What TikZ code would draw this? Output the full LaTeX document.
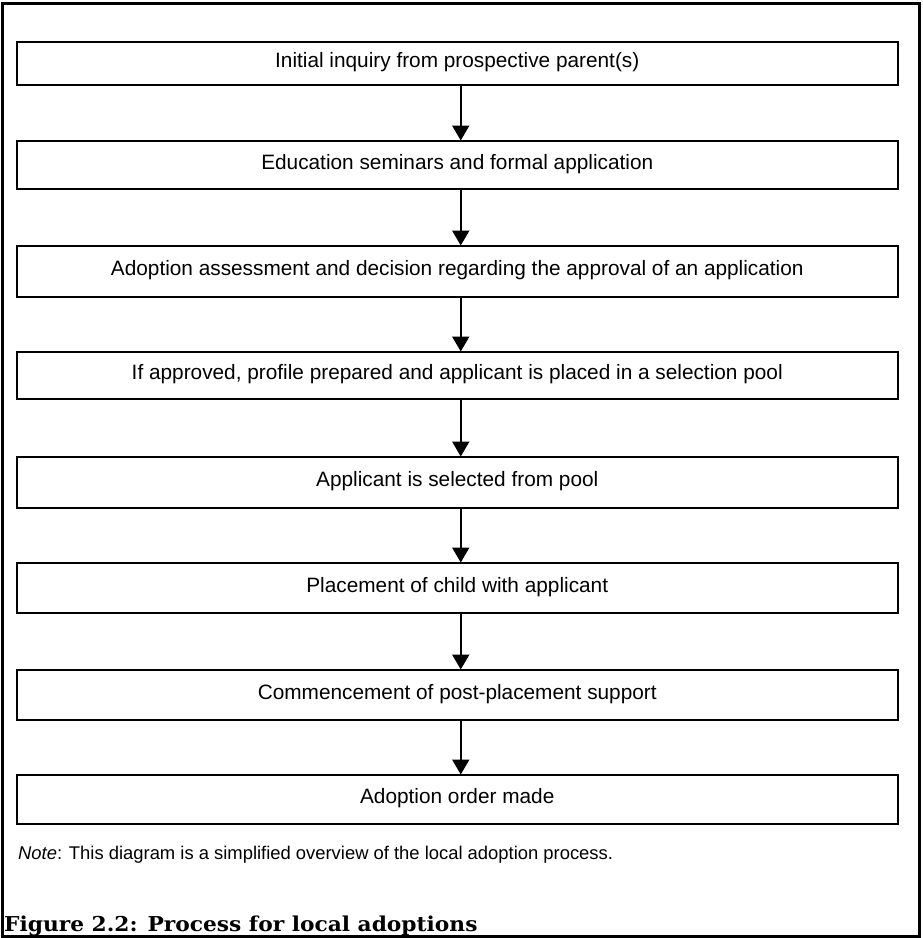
\documentclass[tikz,border=0pt]{standalone}
\usepackage{fontspec}
\setmainfont{Liberation Sans}
\newfontfamily\capfont[FakeStretch=1.06]{DejaVu Serif}
\usetikzlibrary{arrows.meta}
\tikzset{
  stepbox/.style={draw=black, line width=2pt, minimum width=880.5pt, inner sep=0pt,
    text height=14pt, text depth=5.6pt, font=\fontsize{20.8pt}{24pt}\selectfont},
  arr/.style={line width=2pt, -{Triangle[length=15pt,width=17pt]}, shorten >=-0.5pt},
}
\begin{document}
\begin{tikzpicture}[x=1pt,y=-1pt]
\useasboundingbox (0,0) rectangle (922,938);
\draw[line width=3pt] (2,3) rectangle (919,936);
\node[stepbox, minimum height=43.5pt] (b1) at (457.25,63.25) {Initial inquiry from prospective parent(s)};
\node[stepbox, minimum height=48pt] (b2) at (457.25,165) {Education seminars and formal application};
\node[stepbox, minimum height=51pt] (b3) at (457.25,271.5) {Adoption assessment and decision regarding the approval of an application};
\node[stepbox, minimum height=47pt] (b4) at (457.25,375.5) {If approved, profile prepared and applicant is placed in a selection pool};
\node[stepbox, minimum height=51pt] (b5) at (457.25,482.5) {Applicant is selected from pool};
\node[stepbox, minimum height=50pt] (b6) at (457.25,588) {Placement of child with applicant};
\node[stepbox, minimum height=50pt] (b7) at (457.25,695) {Commencement of post-placement support};
\node[stepbox, minimum height=49pt] (b8) at (457.25,799.5) {Adoption order made};
\foreach \a/\b in {b1/b2,b2/b3,b3/b4,b4/b5,b5/b6,b6/b7,b7/b8}{
  \draw[arr] ([xshift=3.5pt]\a.south) -- ([xshift=3.5pt]\b.north);
}
\node[anchor=base west, inner sep=0pt, font=\fontsize{18.4pt}{22pt}\selectfont] (note) at (18,859)
  {\textit{Note}: This diagram is a simplified overview of the local adoption process.};
\node[anchor=base west, inner sep=0pt, font=\capfont\bfseries\fontsize{20.5pt}{24pt}\selectfont] (cap) at (4,931)
  {Figure 2.2: Process for local adoptions};
\end{tikzpicture}
\end{document}
